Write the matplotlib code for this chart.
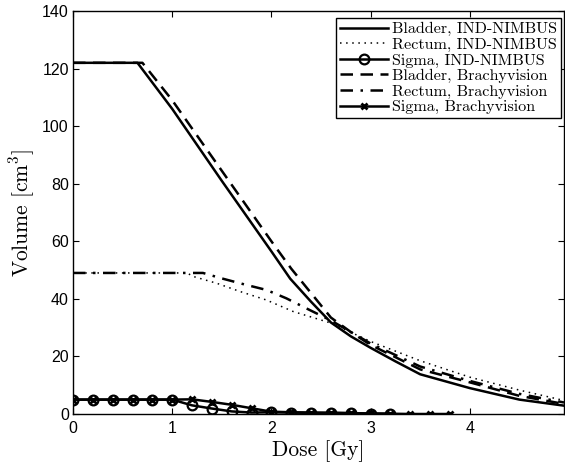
import matplotlib
matplotlib.use('Agg')
import matplotlib.pyplot as plt

plt.rcParams['mathtext.fontset'] = 'cm'

# Dose-volume histogram data (dose in Gy, volume in cm^3)
bladder_nimbus_dose = [0, 0.65, 1.0, 1.5, 2.0, 2.19, 2.4, 2.6, 2.8, 3.0, 3.25, 3.5, 4.0, 4.5, 4.95]
bladder_nimbus_vol = [122, 122, 106, 81, 56.5, 47, 39, 31.8, 27, 23, 18.3, 13.8, 9, 5.0, 2.9]

rectum_nimbus_dose = [0, 1.15, 1.21, 1.45, 1.68, 1.95, 2.22, 2.6, 3.0, 3.5, 4.0, 4.5, 4.95]
rectum_nimbus_vol = [49, 49, 47.8, 45.4, 42.6, 39.6, 35.6, 31.6, 25.2, 18.5, 12.8, 8.3, 4.7]

sigma_nimbus_dose = [0, 0.2, 0.4, 0.6, 0.8, 1.0, 1.2, 1.4, 1.6, 1.8, 2.0, 2.2, 2.4, 2.6, 2.8, 3.0, 3.2]
sigma_nimbus_vol = [5, 5, 5, 5, 5, 5, 3.0, 1.9, 0.9, 0.5, 0.6, 0.5, 0.4, 0.4, 0.3, 0.1, 0.1]

bladder_bv_dose = [0, 0.7, 1.0, 1.5, 2.0, 2.2, 2.4, 2.6, 2.8, 3.0, 3.5, 4.0, 4.5, 4.95]
bladder_bv_vol = [122, 122, 109, 84.5, 60, 50.5, 42, 33.5, 28.5, 24, 15.5, 11, 6.3, 3.5]

rectum_bv_dose = [0, 1.31, 1.5, 1.73, 1.95, 2.15, 2.37, 2.6, 3.0, 3.5, 4.0, 4.5, 4.95]
rectum_bv_vol = [49, 49, 47.1, 45.0, 43.1, 40.2, 36.4, 32.5, 24.5, 16.5, 11.5, 7, 4]

sigma_bv_dose = [0, 0.2, 0.4, 0.6, 0.8, 1.0, 1.2, 1.4, 1.6, 1.8, 2.0, 2.2, 2.4, 2.6, 2.8, 3.0, 3.2, 3.4, 3.6, 3.8]
sigma_bv_vol = [5, 5, 5, 5, 5, 5, 5.1, 4.2, 3.2, 2.0, 0.8, 0.6, 0.5, 0.4, 0.3, 0.2, 0.1, 0, 0, 0]

labels = ['Bladder, IND-NIMBUS', 'Rectum, IND-NIMBUS', 'Sigma, IND-NIMBUS',
          'Bladder, Brachyvision', 'Rectum, Brachyvision', 'Sigma, Brachyvision']

fig = plt.figure(figsize=(5.65, 4.66), dpi=100)
ax = fig.add_axes([73 / 565, 52 / 466, 491 / 565, 403 / 466])

lw = 1.8
ax.plot(bladder_nimbus_dose, bladder_nimbus_vol, 'k-', lw=lw, label=labels[0])
ax.plot(rectum_nimbus_dose, rectum_nimbus_vol, 'k', ls=(0, (1, 3)), lw=1.1, label=labels[1])
ax.plot(sigma_nimbus_dose, sigma_nimbus_vol, 'k-', lw=lw, marker='o', ms=7,
        mfc='none', mew=1.6, label=labels[2])
ax.plot(bladder_bv_dose, bladder_bv_vol, 'k', ls=(0, (5, 3)), lw=lw, label=labels[3])
ax.plot(rectum_bv_dose, rectum_bv_vol, 'k', ls=(0, (5, 3, 1, 3)), lw=lw, label=labels[4])
ax.plot(sigma_bv_dose, sigma_bv_vol, 'k-', lw=lw, marker='x', ms=5,
        mew=2, label=labels[5])

ax.set_xlim(0, 4.95)
ax.set_ylim(0, 140)
ax.set_xticks([0, 1, 2, 3, 4])
ax.set_yticks(range(0, 141, 20))
ax.tick_params(direction='in', top=True, right=True, length=4, width=0.8)
ax.tick_params(axis='x', pad=5)
ax.tick_params(axis='y', pad=3)
for lab in ax.get_xticklabels() + ax.get_yticklabels():
    lab.set_fontfamily('Liberation Sans')
    lab.set_fontsize(11.5)
for s in ax.spines.values():
    s.set_linewidth(1.0)

ax.set_xlabel('Dose [Gy]', fontfamily='cmr10', fontsize=15.5, labelpad=3)
ax.set_ylabel('Volume [cm$^3$]', fontfamily='cmr10', fontsize=15.5, labelpad=4)

leg = ax.legend(loc='upper right', bbox_to_anchor=(561 / 565, 1 - 18 / 466),
                bbox_transform=fig.transFigure, borderaxespad=0,
                prop={'family': 'cmr10', 'size': 11.6}, fancybox=False,
                edgecolor='black', framealpha=1, handlelength=3.0,
                handletextpad=0.25, labelspacing=0.08, borderpad=0.25)
leg.get_frame().set_linewidth(1.0)

fig.savefig('out.png', dpi=100)
